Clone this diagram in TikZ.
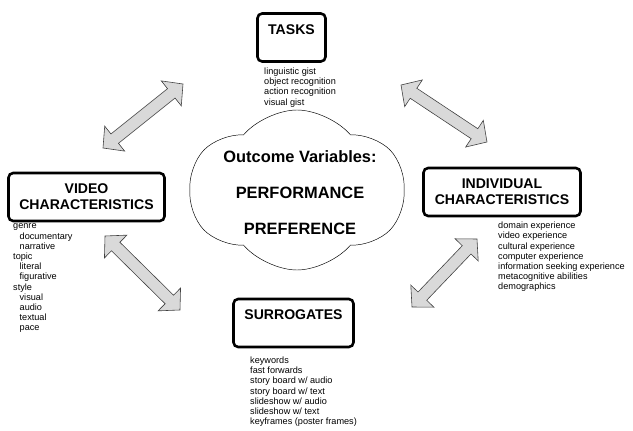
\documentclass[tikz,border=0pt]{standalone}
\usepackage{fontspec}
\setmainfont{Liberation Sans}
\usetikzlibrary{calc}
\usetikzlibrary{shapes.symbols}
\definecolor{arrowgray}{RGB}{217,217,217}

% head length, head half width, shaft half width of the fat arrows
\newcommand{\hdlen}{0.45cm}
\newcommand{\hdhalf}{0.48cm}
\newcommand{\shhalf}{0.18cm}
\newcommand{\ind}{\hspace*{5.5pt}}
\newcommand{\fatarrow}[2]{%
  \filldraw[fill=arrowgray, draw=black!75, line width=0.5pt, line join=miter] (#1)
    -- ($($(#1)!\hdlen!(#2)$)!\hdhalf!90:(#2)$)
    -- ($($(#1)!\hdlen!(#2)$)!\shhalf!90:(#2)$)
    -- ($($(#2)!\hdlen!(#1)$)!\shhalf!-90:(#1)$)
    -- ($($(#2)!\hdlen!(#1)$)!\hdhalf!-90:(#1)$)
    -- (#2)
    -- ($($(#2)!\hdlen!(#1)$)!\hdhalf!90:(#1)$)
    -- ($($(#2)!\hdlen!(#1)$)!\shhalf!90:(#1)$)
    -- ($($(#1)!\hdlen!(#2)$)!\shhalf!-90:(#2)$)
    -- ($($(#1)!\hdlen!(#2)$)!\hdhalf!-90:(#2)$)
    -- cycle;}

\begin{document}
\begin{tikzpicture}[x=0.03cm, y=-0.03cm,
  titlebox/.style={draw, line width=2.2pt, rounded corners=4pt, align=center,
    inner sep=0pt, minimum height=1.44cm, font=\fontsize{12}{13.5}\selectfont\bfseries},
  itemlist/.style={anchor=north west, align=left, inner sep=0pt,
    font=\fontsize{7.8}{8.7}\selectfont}]

  \useasboundingbox (0,0) rectangle (633,431);

  % the four factors
  \node[titlebox, minimum width=2.04cm] (tasks) at (291.5,37.5) {TASKS\\\phantom{X}};
  \node[titlebox, minimum width=4.68cm] (video) at (86.5,197) {VIDEO\\CHARACTERISTICS};
  \node[titlebox, minimum width=4.71cm] (indiv) at (502,192) {INDIVIDUAL\\CHARACTERISTICS};
  \node[titlebox, minimum width=3.6cm] (surr) at (293.5,323) {SURROGATES\\\phantom{X}};

  % what each factor covers
  \node[itemlist] (tasklist) at (264,67.7) {linguistic gist\\object recognition\\action recognition\\visual gist};
  \node[itemlist] (videolist) at (13,223.8) {genre\\\ind documentary\\\ind narrative\\topic\\\ind literal\\\ind figurative\\style\\\ind visual\\\ind audio\\\ind textual\\\ind pace};
  \node[itemlist] (indivlist) at (498,221.8) {domain experience\\video experience\\cultural experience\\computer experience\\information seeking experience\\metacognitive abilities\\demographics};
  \node[itemlist] (surrlist) at (250,356.7) {keywords\\fast forwards\\story board w/ audio\\story board w/ text\\slideshow w/ audio\\slideshow w/ text\\keyframes (poster frames)};

  % outcome cloud
  \node[cloud, draw, cloud puffs=6, cloud puff arc=100, cloud ignores aspect, shape border rotate=45,
    minimum width=6.45cm, minimum height=4.8cm, inner sep=0pt] (outcome) at (297,190) {};
  \node[align=center, font=\fontsize{14}{30.7}\selectfont\bfseries] (outcometext) at (300,193)
    {Outcome Variables:\\PERFORMANCE\\PREFERENCE};

  % arrow ends
  \coordinate (tv1) at (183,84);  \coordinate (tv2) at (103,148);
  \coordinate (ti1) at (401,85);  \coordinate (ti2) at (487,142);
  \coordinate (vs1) at (105,236); \coordinate (vs2) at (180,310);
  \coordinate (si1) at (477,239); \coordinate (si2) at (412,307);

  \fatarrow{tv1}{tv2}
  \fatarrow{ti1}{ti2}
  \fatarrow{vs1}{vs2}
  \fatarrow{si1}{si2}

\end{tikzpicture}
\end{document}
